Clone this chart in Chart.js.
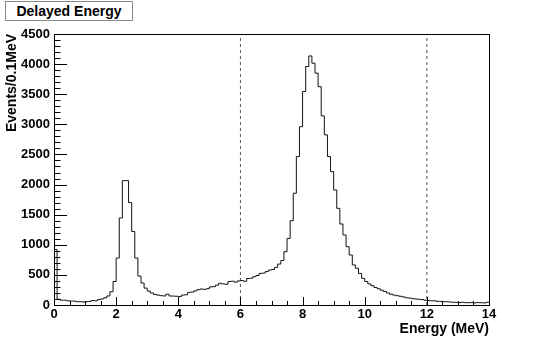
<!DOCTYPE html>
<html>
<head>
<meta charset="utf-8">
<script src="https://cdn.jsdelivr.net/npm/chart.js@4.4.1/dist/chart.umd.min.js"></script>
<style>
  body { margin: 0; background: #fff; }
  #wrap { position: relative; width: 545px; height: 340px; }
  #titlebox {
    position: absolute; left: 5px; top: 1px; width: 126px; height: 18px;
    border: 1px solid #888; background: #fff;
    font: bold 14px "Liberation Sans", Arial, Helvetica, sans-serif;
    line-height: 18px; text-align: center; color: #000;
  }
</style>
</head>
<body>
<div id="wrap">
  <canvas id="hist" width="545" height="340"></canvas>
  <div id="titlebox">Delayed Energy</div>
</div>
<script>
// Histogram: events per 0.1 MeV bin, 0 - 14 MeV

var binWidth = 0.1;
var counts = [
  920, 95, 80, 80, 70, 65, 65, 55, 55, 50,
  55, 60, 75, 70, 90, 100, 120, 150, 220, 390,
  780, 1445, 2065, 2065, 1700, 1220, 780, 480, 365, 280,
  230, 200, 175, 165, 155, 150, 180, 150, 148, 145,
  140, 165, 170, 210, 215, 235, 255, 265, 260, 270,
  300, 305, 330, 360, 350, 345, 390, 395, 380, 400,
  405, 395, 440, 445, 470, 490, 525, 530, 555, 580,
  590, 625, 680, 740, 885, 1105, 1400, 1855, 2465, 2960,
  3545, 3960, 4135, 4015, 3850, 3625, 3140, 2825, 2465, 2215,
  1910, 1605, 1345, 1163, 968, 830, 665, 610, 525, 443,
  390, 350, 320, 290, 270, 245, 225, 200, 180, 165,
  155, 145, 135, 120, 115, 105, 100, 95, 90, 80,
  75, 70, 70, 60, 60, 55, 55, 50, 45, 45,
  40, 45, 40, 38, 40, 35, 40, 38, 35, 45
];
var cutLines = [6, 12];
var xTicks = { min: 0, max: 14, major: 2, minor: 0.5 };
var yTicks = { min: 0, max: 4500, major: 500, minor: 100 };

// bin left edges -> stepped line, last point closes the final bin
var histPoints = counts.map(function (c, i) {
  return { x: +(i * binWidth).toFixed(1), y: c };
});
histPoints.push({ x: xTicks.max, y: counts[counts.length - 1] });

var cutSets = cutLines.map(function (e) {
  return {
    data: [{ x: e, y: yTicks.min }, { x: e, y: yTicks.max }],
    borderColor: '#555',
    borderWidth: 1,
    borderDash: [3, 3],
    pointRadius: 0
  };
});

// ROOT style frame with inward ticks
var rootFrame = {
  id: 'rootFrame',
  afterDatasetsDraw: function (chart) {
    var ctx = chart.ctx, a = chart.chartArea;
    var x = chart.scales.x, y = chart.scales.y;
    ctx.save();
    ctx.strokeStyle = '#000';
    ctx.lineWidth = 1;
    ctx.beginPath();
    for (var v = xTicks.min; v <= xTicks.max; v += xTicks.minor) {
      var px = Math.round(x.getPixelForValue(v)) + 0.5;
      var len = (v % xTicks.major === 0) ? 8 : 4;
      ctx.moveTo(px, a.bottom);
      ctx.lineTo(px, a.bottom - len);
    }
    for (var w = yTicks.min; w <= yTicks.max; w += yTicks.minor) {
      var py = Math.round(y.getPixelForValue(w)) + 0.5;
      var l2 = (w % yTicks.major === 0) ? 13 : 6.5;
      ctx.moveTo(a.left, py);
      ctx.lineTo(a.left + l2, py);
    }
    ctx.stroke();
    ctx.strokeRect(Math.round(a.left) + 0.5, Math.round(a.top) + 0.5,
      Math.round(a.right - a.left), Math.round(a.bottom - a.top));
    ctx.restore();
  }
};

var tickFont = { family: '"Liberation Sans", Arial, Helvetica, sans-serif', size: 13, weight: 'bold' };
var titleFont = { family: '"Liberation Sans", Arial, Helvetica, sans-serif', size: 14, weight: 'bold' };

new Chart(document.getElementById('hist'), {
  type: 'line',
  data: {
    datasets: [{
      data: histPoints,
      stepped: true,
      borderColor: '#111',
      borderWidth: 1,
      pointRadius: 0,
      fill: false
    }].concat(cutSets)
  },
  options: {
    responsive: false,
    animation: false,
    devicePixelRatio: 1,
    layout: { padding: { left: 0, right: 56, top: 34, bottom: 0 } },
    plugins: {
      legend: { display: false },
      tooltip: { enabled: false }
    },
    scales: {
      x: {
        type: 'linear',
        min: xTicks.min,
        max: xTicks.max,
        afterFit: function (s) { s.height = 35; },
        grid: { display: false, drawTicks: false },
        border: { display: false },
        ticks: {
          stepSize: xTicks.major, color: '#000', font: tickFont, padding: 2, maxRotation: 0,
          callback: function (v) { return String(v); }
        },
        title: {
          display: true, text: 'Energy (MeV)', align: 'end', color: '#000',
          font: titleFont, padding: { top: 0, bottom: 2 }
        }
      },
      y: {
        min: yTicks.min,
        max: yTicks.max,
        afterFit: function (s) { s.width = 54; },
        grid: { display: false, drawTicks: false },
        border: { display: false },
        ticks: {
          stepSize: yTicks.major, color: '#000', font: tickFont, padding: 4,
          callback: function (v) { return String(v); }
        },
        title: {
          display: true, text: 'Events/0.1MeV', align: 'end', color: '#000',
          font: titleFont, padding: { top: 4, bottom: 0 }
        }
      }
    }
  },
  plugins: [rootFrame]
});
</script>
</body>
</html>
